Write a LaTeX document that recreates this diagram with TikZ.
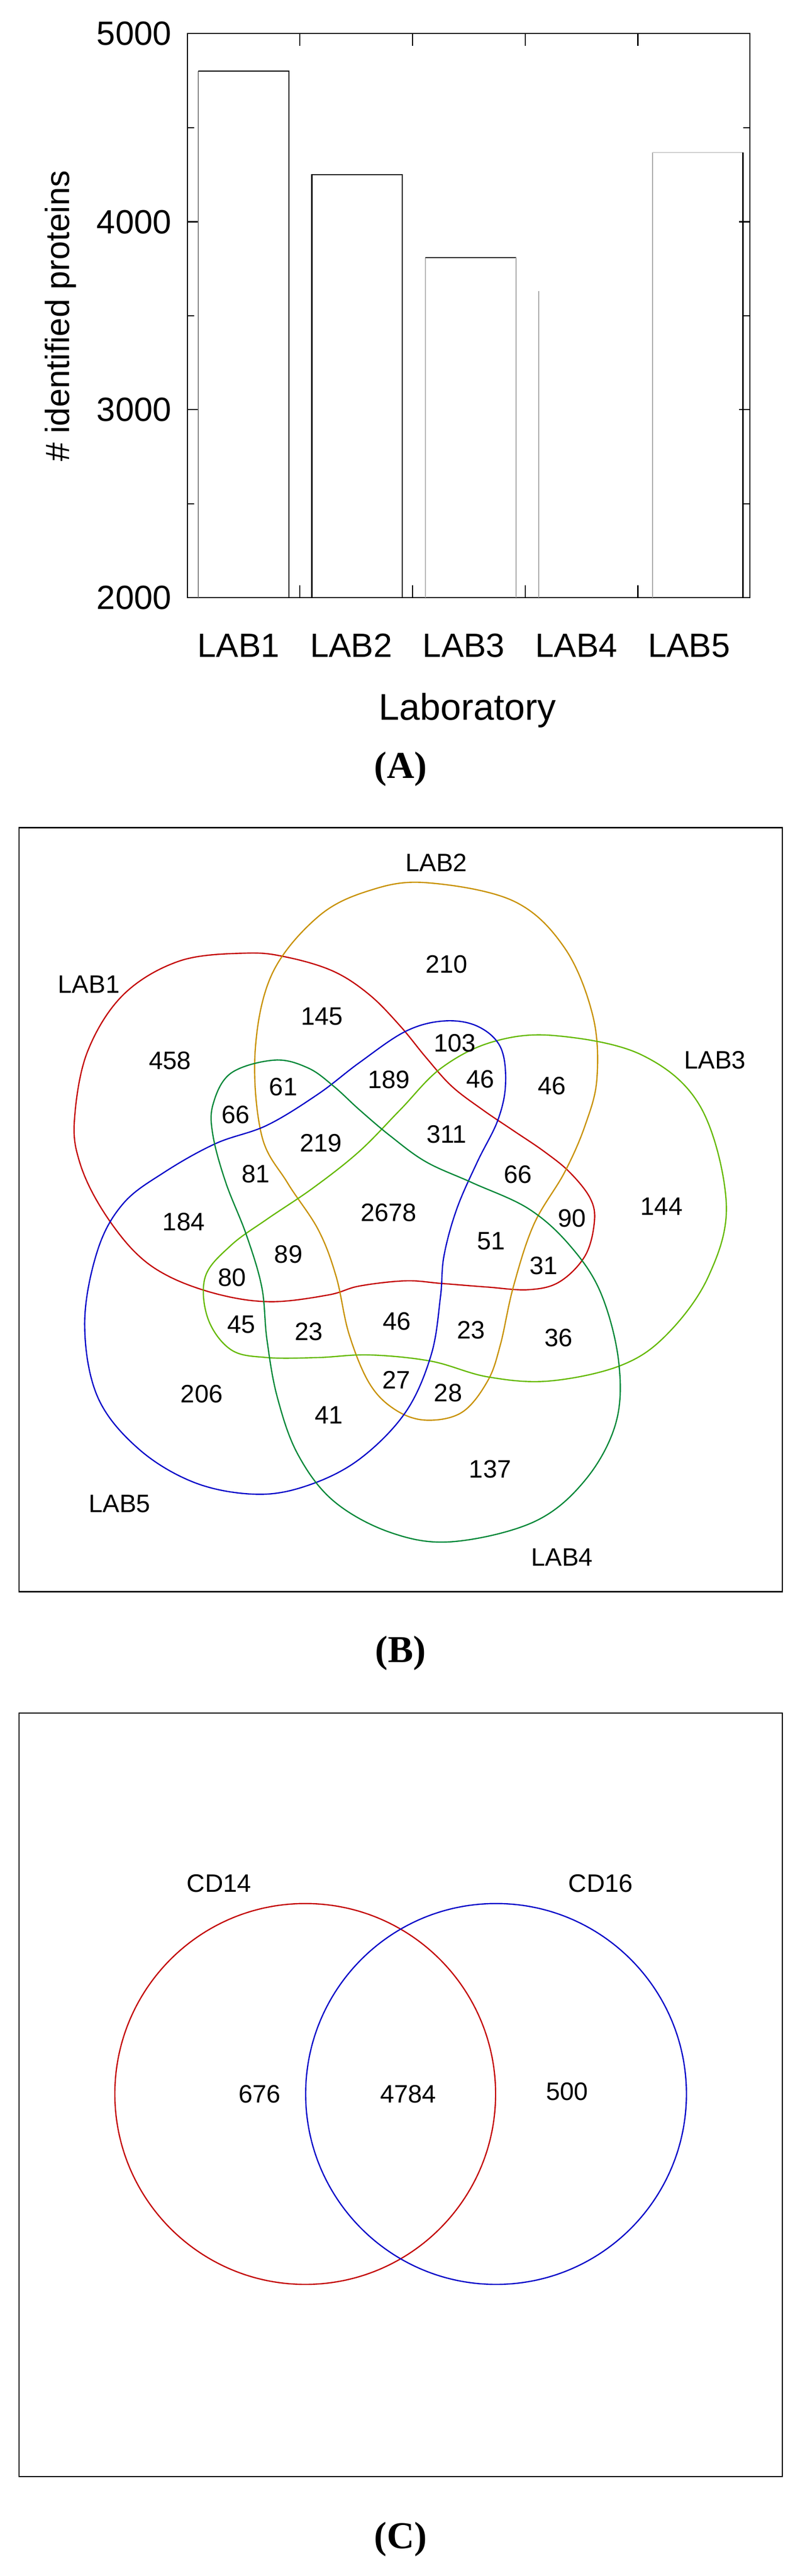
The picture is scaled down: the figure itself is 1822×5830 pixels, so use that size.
\documentclass[tikz,border=0pt]{standalone}
\usepackage{fontspec}
\setmainfont{Liberation Sans}
\newfontfamily\serifbf{Liberation Serif}
\begin{document}
\begin{tikzpicture}[x=0.1pt,y=-0.1pt,
  ax/.style={line width=0.25pt,black},
  tk/.style={font=\fontsize{7.6pt}{9pt}\selectfont},
  vl/.style={font=\fontsize{5.7pt}{7pt}\selectfont,inner sep=0pt},
  pcap/.style={font=\fontsize{8.6pt}{10pt}\serifbf\bfseries,inner sep=0pt},
  vc/.style={line width=0.28pt},
  frame/.style={line width=0.3pt,black}]
\definecolor{cRed}{RGB}{195,0,0}
\definecolor{cGold}{RGB}{200,145,0}
\definecolor{cLime}{RGB}{100,185,0}
\definecolor{cBlue}{RGB}{0,0,200}
\definecolor{cGreen}{RGB}{0,135,55}
\useasboundingbox (0,0) rectangle (1822,5830);
\fill[white] (0,0) rectangle (1822,5830);
% ---------- Panel A ----------
\draw[ax] (424,76) rectangle (1698,1353);
\foreach \y in {502,927}{\draw[ax] (424,\y) -- ++(25,0); \draw[ax] (1698,\y) -- ++(-25,0);}
\foreach \y in {289,715,1140}{\draw[ax] (424,\y) -- ++(15,0); \draw[ax] (1698,\y) -- ++(-15,0);}
\foreach \x in {679,934,1189,1444}{\draw[ax] (\x,1353) -- ++(0,-28); \draw[ax] (\x,76) -- ++(0,28);}
\foreach \y/\t in {76/5000,502/4000,927/3000,1353/2000}{\node[tk,anchor=east,inner sep=0pt] (t\t) at (390,\y) {\t};}
% bars
\draw[ax,gray] (449,1353) -- (449,161);
\draw[ax] (449,161) -- (654,161) -- (654,1353);
\draw[ax] (706,1353) -- (706,395) -- (911,395) -- (911,1353);
\draw[ax,gray!60] (963,1353) -- (963,583);
\draw[ax] (963,583) -- (1168,583);
\draw[ax,gray!70] (1168,583) -- (1168,1353);
\draw[ax,gray!70] (1220,1353) -- (1220,659);
\draw[ax,gray!70] (1477,1353) -- (1477,345);
\draw[ax,gray!40] (1477,345) -- (1682,345);
\draw[ax] (1682,345) -- (1682,1353);
\foreach \i/\t in {0/LAB1,1/LAB2,2/LAB3,3/LAB4,4/LAB5}{\node[tk] (x\t) at (540+255*\i,1461) {\t};}
\node[tk,font=\fontsize{8.4pt}{10pt}\selectfont] (xlab) at (1058,1608) {Laboratory};
\node[tk,rotate=90] (ylab) at (137,715) {\# identified proteins};
\node[pcap] (capA) at (907,1741) {(A)};
% ---------- Panel B ----------
\draw[frame] (43,1873) rectangle (1771,3602);
\begin{scope}[shift={(0,1850)},xscale=1.162,yscale=1.181]
\draw[vc,cRed] plot[smooth cycle,tension=0.6] coordinates {(480,260) (560,268) (650,295) (720,340) (780,400) (830,460) (880,515) (940,560) (1000,600) (1060,640) (1110,680) (1150,730) (1158,775) (1140,840) (1090,890) (1030,905) (950,900) (860,893) (790,888) (700,898) (640,915) (530,928) (430,915) (330,880) (260,830) (195,745) (155,660) (145,580) (170,450) (240,340) (350,275)};
\draw[vc,cGold] plot[smooth cycle,tension=0.6] coordinates {(830,125) (1000,160) (1100,250) (1155,380) (1163,500) (1140,590) (1100,680) (1040,780) (1000,900) (975,1010) (950,1080) (900,1140) (830,1155) (770,1135) (720,1085) (680,990) (655,880) (620,790) (560,700) (510,610) (497,450) (530,300) (620,190) (720,140)};
\draw[vc,cLime] plot[smooth cycle,tension=0.6] coordinates {(1080,418) (1250,455) (1365,555) (1415,740) (1380,880) (1300,990) (1210,1050) (1070,1080) (950,1072) (840,1042) (720,1030) (620,1035) (520,1035) (450,1020) (405,960) (400,880) (450,820) (520,770) (610,710) (700,640) (780,560) (860,480) (960,430)};
\draw[vc,cBlue] plot[smooth cycle,tension=0.6] coordinates {(865,390) (930,400) (975,440) (985,510) (970,580) (930,660) (890,750) (865,840) (858,920) (840,1030) (790,1140) (700,1230) (600,1280) (500,1297) (380,1275) (270,1210) (190,1110) (165,970) (190,830) (240,740) (320,680) (420,625) (520,590) (620,530) (700,470) (790,410)};
\draw[vc,cGreen] plot[smooth cycle,tension=0.6] coordinates {(535,465) (600,480) (650,515) (700,560) (760,610) (830,660) (920,700) (1030,750) (1110,820) (1170,910) (1205,1040) (1200,1160) (1140,1270) (1040,1350) (880,1388) (760,1370) (650,1310) (580,1220) (540,1110) (520,1000) (510,900) (480,800) (440,700) (415,610) (415,550) (450,490)};
\node[vl] (l2) at (850,87) {LAB2};
\node[vl] (l1) at (173,320) {LAB1};
\node[vl] (l3) at (1393,465) {LAB3};
\node[vl] (l5) at (233,1315) {LAB5};
\node[vl] (l4) at (1095,1418) {LAB4};
\foreach \x/\y/\t [count=\n] in {870/281/210,627/381/145,886/432/103,331/466/458,936/502/46,1075/514/46,552/516/61,758/503/189,459/570/66,870/607/311,625/624/219,498/683/81,1009/684/66,1289/745/144,1114/768/90,358/775/184,757/757/2678,957/812/51,562/837/89,1059/859/31,452/882/80,470/972/45,602/985/23,773/966/46,918/982/23,1088/997/36,772/1078/27,873/1103/28,393/1105/206,641/1145/41,955/1249/137}{\node[vl] (v\n) at (\x,\y) {\t};}
\end{scope}
\node[pcap] (capB) at (907,3741) {(B)};
% ---------- Panel C ----------
\draw[frame] (43,3877) rectangle (1771,5605);
\draw[vc,cRed] (691,4739) circle[radius=431];
\draw[vc,cBlue] (1123,4739) circle[radius=431];
\node[vl] (cd14) at (496,4262) {CD14};
\node[vl] (cd16) at (1360,4262) {CD16};
\node[vl] (n676) at (588,4739) {676};
\node[vl] (n4784) at (924,4739) {4784};
\node[vl] (n500) at (1284,4733) {500};
\node[pcap] (capC) at (907,5747) {(C)};
\end{tikzpicture}
\end{document}
